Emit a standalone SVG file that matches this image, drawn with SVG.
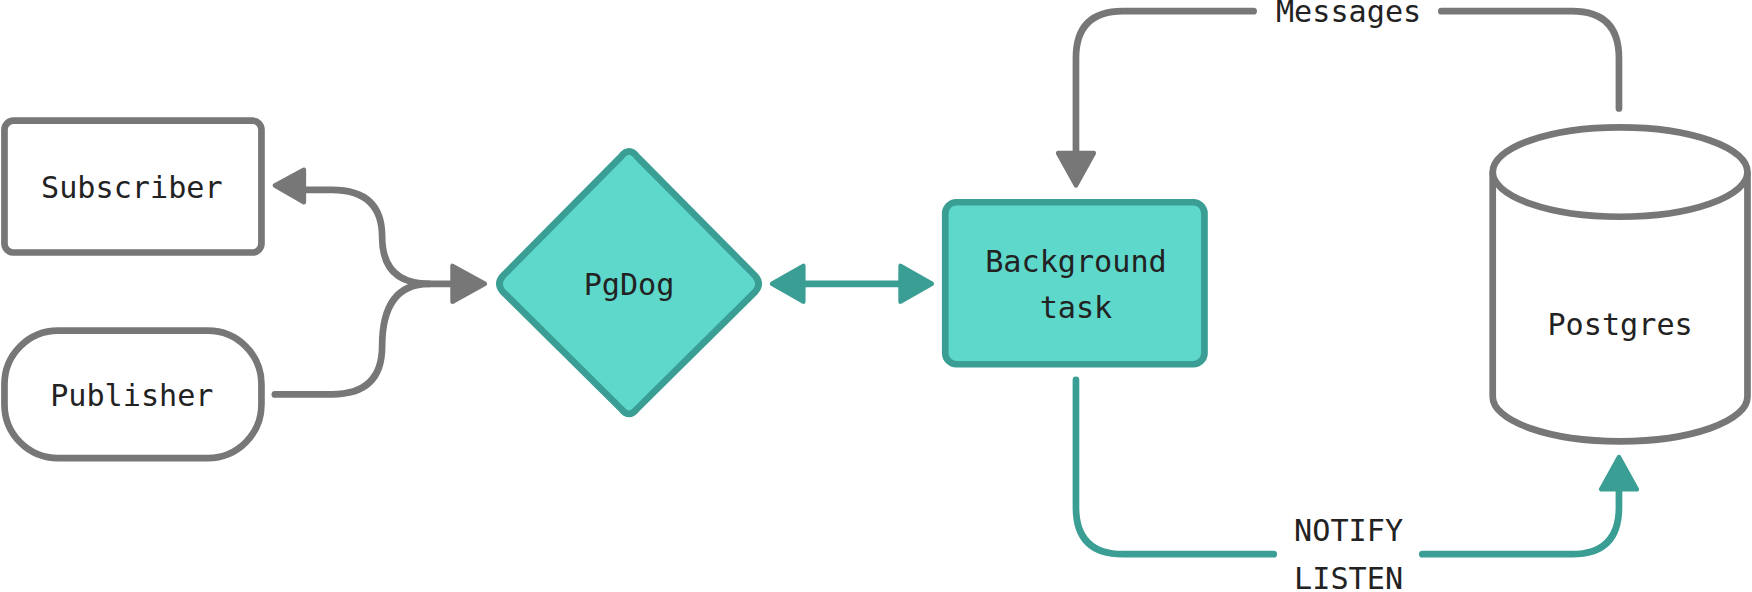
<svg xmlns="http://www.w3.org/2000/svg" width="1752" height="592" viewBox="0 0 1752 592">
<style>
.t{font-family:"DejaVu Sans Mono","Liberation Mono",monospace;font-size:27px;fill:#222;text-anchor:middle}
.g{stroke:#777;stroke-width:6;fill:none;stroke-linecap:round;stroke-linejoin:round}
.c{stroke:#3a9e94;stroke-width:6;fill:none;stroke-linecap:round;stroke-linejoin:round}
.ga{fill:#777;stroke:#777;stroke-width:4;stroke-linejoin:round}
.ca{fill:#3a9e94;stroke:#3a9e94;stroke-width:4;stroke-linejoin:round}
</style>
<rect width="1752" height="592" fill="#fff"/>
<g transform="scale(1.1173)">
<g id="subscriber"><rect x="4" y="108" width="230" height="118" rx="8" fill="#fff" stroke="#777" stroke-width="6"/><text class="t" x="118" y="177">Subscriber</text></g>
<g id="publisher"><rect x="4" y="296" width="230" height="114" rx="48" fill="#fff" stroke="#777" stroke-width="6"/><text class="t" x="118" y="363">Publisher</text></g>
<g id="pgdog"><path d="M556,140 Q563,131 570,140 L676,247 Q682,254 676,261 L570,366 Q563,375 556,366 L450,261 Q444,254 450,247 Z" fill="#5dd8cb" stroke="#3a9e94" stroke-width="6"/><text class="t" x="563" y="264">PgDog</text></g>
<g id="background"><rect x="846" y="181" width="232" height="145" rx="10" fill="#5dd8cb" stroke="#3a9e94" stroke-width="6"/><text class="t" x="963" y="243">Background</text><text class="t" x="963" y="285">task</text></g>
<g id="postgres"><path d="M1336,154 L1336,355 A114,40 0 0 0 1564,355 L1564,154" fill="#fff" stroke="#777" stroke-width="6"/><ellipse cx="1450" cy="154" rx="114" ry="40" fill="#fff" stroke="#777" stroke-width="6"/><text class="t" x="1450" y="300">Postgres</text></g>
<g id="connectors">
<path class="g" d="M272,170 L297,170 Q342,170 342,212 Q342,254 384,254 L404,254"/>
<path class="ga" d="M246,166 L272,152 L272,181 Z"/>
<path class="ga" d="M434,254 L405,238 L405,270 Z"/>
<path class="g" d="M246,353 L297,353 Q342,353 342,310 Q342,254 384,254"/>
<path class="c" d="M718,254 L806,254"/>
<path class="ca" d="M691,254 L719,238 L719,270 Z"/>
<path class="ca" d="M834,254 L806,238 L806,270 Z"/>
<path class="g" d="M1449,97 L1449,52 Q1449,10 1407,10 L1290,10"/>
<path class="g" d="M1122,10 L1005,10 Q963,10 963,52 L963,136"/>
<path class="ga" d="M963,166 L947,137 L979,137 Z"/>
<text class="t" x="1207" y="20">Messages</text>
<path class="c" d="M963,340 L963,454 Q963,496 1005,496 L1140,496"/>
<path class="c" d="M1273,496 L1407,496 Q1449,496 1449,454 L1449,439"/>
<path class="ca" d="M1449,409 L1433,438 L1465,438 Z"/>
<text class="t" x="1207" y="484">NOTIFY</text>
<text class="t" x="1207" y="527">LISTEN</text>
</g>
</g>
</svg>
